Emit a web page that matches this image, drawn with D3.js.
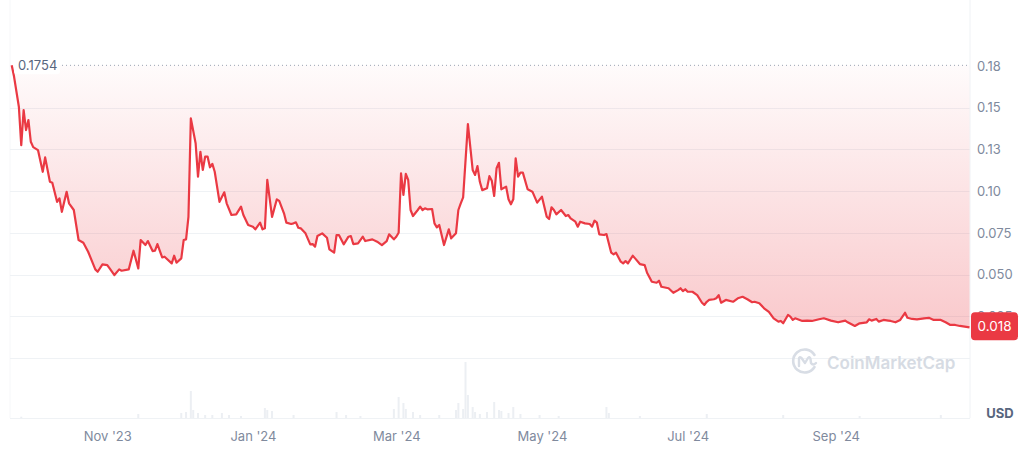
<!DOCTYPE html>
<html>
<head>
<meta charset="utf-8">
<script src="https://cdn.jsdelivr.net/npm/d3@7"></script>
<style>
  body { margin: 0; background: #fff; }
  svg { display: block; font-family: Inter, "Noto Sans", sans-serif; }
</style>
</head>
<body>
<div id="chart"></div>
<script>
// first day of the series, every point is "days since" this date
var startDate = new Date(2023, 8, 22);

var dayIdx = [0, 1, 3, 4, 5, 6, 7, 8, 9, 11, 13, 14, 16, 17, 19, 20, 21, 23, 24, 26,
  28, 30, 32, 35, 36, 38, 40, 41, 43, 45, 46, 49, 51, 53, 54, 56, 57, 59, 60, 61,
  63, 64, 67, 68, 69, 71, 72, 73, 74, 75, 77, 78, 79, 80, 81, 82, 83, 84, 85, 87,
  89, 90, 92, 94, 96, 97, 99, 101, 102, 104, 105, 106, 107, 109, 111, 112, 114, 115, 117, 118,
  119, 120, 121, 123, 125, 126, 127, 128, 130, 132, 133, 135, 136, 137, 139, 141, 142, 143, 145, 147,
  148, 151, 153, 155, 157, 158, 160, 161, 162, 163, 164, 165, 166, 167, 168, 170, 171, 172, 173, 174,
  176, 177, 178, 179, 181, 183, 184, 186, 187, 188, 189, 191, 193, 194, 195, 196, 197, 199, 200, 201,
  202, 203, 204, 205, 207, 208, 209, 210, 211, 212, 213, 214, 216, 218, 220, 222, 224, 225, 226, 227,
  228, 230, 232, 233, 234, 236, 237, 238, 240, 242, 243, 244, 245, 246, 248, 249, 251, 252, 253, 255,
  256, 257, 258, 260, 261, 263, 265, 266, 268, 270, 271, 272, 274, 275, 277, 279, 280, 281, 282, 283,
  285, 287, 289, 290, 291, 292, 294, 295, 296, 297, 299, 302, 304, 306, 308, 310, 311, 313, 315, 317,
  319, 321, 322, 323, 325, 326, 327, 328, 331, 333, 335, 338, 340, 343, 346, 349, 350, 353, 355, 358,
  359, 360, 362, 363, 365, 367, 368, 370, 372, 374, 375, 377, 379, 382, 384, 386, 389, 391, 393, 395,
  397, 399, 401];

var prices = [0.1754, 0.1685, 0.1506, 0.1276, 0.1486, 0.1366, 0.1426, 0.1296, 0.1264, 0.1246, 0.1116, 0.1202, 0.1056, 0.1050, 0.0936, 0.0957, 0.0876, 0.0996, 0.0927, 0.0887,
  0.0707, 0.0691, 0.0637, 0.0531, 0.0517, 0.0561, 0.0557, 0.0537, 0.0497, 0.0531, 0.0523, 0.0531, 0.0643, 0.0537, 0.0707, 0.0677, 0.0701, 0.0641, 0.0643, 0.0683,
  0.0603, 0.0607, 0.0567, 0.0613, 0.0571, 0.0597, 0.0707, 0.0711, 0.0846, 0.1436, 0.1287, 0.1087, 0.1236, 0.1127, 0.1207, 0.1207, 0.1143, 0.1163, 0.1116, 0.0936,
  0.0993, 0.0927, 0.0857, 0.0861, 0.0907, 0.0857, 0.0797, 0.0787, 0.0771, 0.0811, 0.0771, 0.0777, 0.1067, 0.0846, 0.0951, 0.0942, 0.0867, 0.0811, 0.0803, 0.0807,
  0.0813, 0.0781, 0.0777, 0.0747, 0.0681, 0.0683, 0.0667, 0.0731, 0.0747, 0.0721, 0.0651, 0.0631, 0.0737, 0.0737, 0.0681, 0.0727, 0.0731, 0.0683, 0.0687, 0.0727,
  0.0701, 0.0711, 0.0697, 0.0677, 0.0701, 0.0741, 0.0711, 0.0727, 0.0751, 0.1107, 0.0977, 0.1103, 0.1067, 0.0887, 0.0851, 0.0887, 0.0907, 0.0887, 0.0897, 0.0891,
  0.0893, 0.0807, 0.0783, 0.0797, 0.0677, 0.0771, 0.0717, 0.0747, 0.0887, 0.0927, 0.0963, 0.1402, 0.1127, 0.1097, 0.1150, 0.1056, 0.1006, 0.1017, 0.1090, 0.1062,
  0.0971, 0.1137, 0.1170, 0.1011, 0.1027, 0.0951, 0.0921, 0.0951, 0.1197, 0.1087, 0.1111, 0.1111, 0.1011, 0.0997, 0.0931, 0.0967, 0.0847, 0.0833, 0.0903, 0.0887,
  0.0861, 0.0887, 0.0851, 0.0857, 0.0837, 0.0817, 0.0787, 0.0817, 0.0807, 0.0803, 0.0787, 0.0823, 0.0811, 0.0741, 0.0737, 0.0743, 0.0631, 0.0621, 0.0631, 0.0577,
  0.0567, 0.0581, 0.0567, 0.0613, 0.0597, 0.0563, 0.0557, 0.0511, 0.0457, 0.0451, 0.0463, 0.0427, 0.0421, 0.0418, 0.0391, 0.0407, 0.0418, 0.0401, 0.0412, 0.0397,
  0.0397, 0.0377, 0.0331, 0.0318, 0.0337, 0.0348, 0.0352, 0.0358, 0.0377, 0.0331, 0.0348, 0.0337, 0.0358, 0.0367, 0.0352, 0.0334, 0.0337, 0.0328, 0.0298, 0.0277,
  0.0238, 0.0218, 0.0222, 0.0208, 0.0258, 0.0248, 0.0228, 0.0238, 0.0222, 0.0224, 0.0222, 0.0232, 0.0238, 0.0224, 0.0214, 0.0224, 0.0214, 0.0192, 0.0208, 0.0214,
  0.0232, 0.0224, 0.0234, 0.0218, 0.0228, 0.0224, 0.0222, 0.0214, 0.0228, 0.0271, 0.0241, 0.0234, 0.0232, 0.0238, 0.0241, 0.0228, 0.0228, 0.0214, 0.0198, 0.0198,
  0.0192, 0.0188, 0.0184];

// volume (thousand USD), only the days where a bar is visible
var volDays = [4, 53, 71, 73, 75, 76, 78, 81, 84, 88, 91, 96, 106, 107, 109, 118, 136, 140, 146, 160,
  162, 164, 165, 168, 171, 179, 186, 187, 189, 190, 191, 193, 194, 196, 199, 202, 204, 205, 208, 210,
  213, 221, 229, 249, 250, 263, 291, 323, 355, 389];
var volumes = [130, 400, 500, 600, 2700, 800, 500, 300, 300, 500, 300, 200, 1000, 800, 700, 300, 600, 300, 200, 900,
  2100, 1500, 900, 600, 300, 300, 800, 1500, 900, 5600, 2300, 1100, 600, 400, 600, 1600, 800, 700, 500, 1100,
  400, 300, 200, 1100, 500, 200, 400, 300, 200, 300];

var yTicks = [0.175, 0.15, 0.125, 0.1, 0.075, 0.05, 0.025];
var yTickLabels = ["0.18", "0.15", "0.13", "0.10", "0.075", "0.050", "0.025"];
var gridVals = [0.15, 0.125, 0.1, 0.075, 0.05, 0.025, 0];

var W = 1024, H = 449;
var left = 10, right = 970, volBase = 418;
var red = "#ea3943";
var labelColor = "#808a9d";

var rows = dayIdx.map(function (d, i) {
  return { date: d3.timeDay.offset(startDate, d), price: prices[i] };
});
var volRows = volDays.map(function (d, i) {
  return { date: d3.timeDay.offset(startDate, d), vol: volumes[i] };
});

var x = d3.scaleTime()
  .domain([startDate, d3.timeDay.offset(startDate, 401)])
  .range([11.7, 969.5]);

var y = d3.scaleLinear()
  .domain([0, 0.175])
  .range([358, 66]);

var yVol = d3.scaleLinear()
  .domain([0, 5600])
  .range([volBase, 362]);

var svg = d3.select("#chart").append("svg")
  .attr("width", W)
  .attr("height", H);

var defs = svg.append("defs");
var grad = defs.append("linearGradient")
  .attr("id", "fillGrad")
  .attr("gradientUnits", "userSpaceOnUse")
  .attr("x1", 0).attr("x2", 0)
  .attr("y1", y(0.175)).attr("y2", y(0));
grad.append("stop").attr("offset", "0%").attr("stop-color", red).attr("stop-opacity", 0.02);
grad.append("stop").attr("offset", "100%").attr("stop-color", red).attr("stop-opacity", 0.3);

// frame lines
svg.append("line")
  .attr("x1", right).attr("x2", right)
  .attr("y1", 0).attr("y2", volBase)
  .attr("stroke", "#eff2f5");
svg.append("line")
  .attr("x1", left).attr("x2", left)
  .attr("y1", 0).attr("y2", volBase)
  .attr("stroke", "#f6f7f9");

// grid
svg.append("g").selectAll("line")
  .data(gridVals)
  .enter().append("line")
  .attr("x1", left).attr("x2", right)
  .attr("y1", function (d) { return Math.round(y(d)) + 0.5; })
  .attr("y2", function (d) { return Math.round(y(d)) + 0.5; })
  .attr("stroke", "#eff2f5");

svg.append("line")
  .attr("x1", left).attr("x2", right)
  .attr("y1", volBase + 0.5).attr("y2", volBase + 0.5)
  .attr("stroke", "#eff2f5");

// volume bars
svg.append("g").selectAll("rect")
  .data(volRows)
  .enter().append("rect")
  .attr("x", function (d) { return x(d.date) - 1; })
  .attr("width", 2)
  .attr("y", function (d) { return yVol(d.vol); })
  .attr("height", function (d) { return volBase - yVol(d.vol); })
  .attr("fill", "#eceff3");

// watermark
var wm = svg.append("g").attr("transform", "translate(805,361)");
wm.append("path")
  .attr("d", "M9.5,-6 A11.5,11.5 0 1 0 9.5,6")
  .attr("fill", "none")
  .attr("stroke", "#d8dde5")
  .attr("stroke-width", 2.6)
  .attr("stroke-linecap", "round");
wm.append("path")
  .attr("d", "M-6,5 L-6,-2 Q-6,-5 -3.5,-3 L0,2 L3,-3 Q5,-5 5.5,-2 L6,2 Q8,5 11,2")
  .attr("fill", "none")
  .attr("stroke", "#d8dde5")
  .attr("stroke-width", 2.4)
  .attr("stroke-linecap", "round")
  .attr("stroke-linejoin", "round");
svg.append("text")
  .attr("x", 827)
  .attr("y", 368.5)
  .attr("fill", "#d6dbe3")
  .style("font-size", "17px")
  .style("font-weight", 600)
  .text("CoinMarketCap");

// price area (between the line and the first price) and line
var base = prices[0];
var area = d3.area()
  .x(function (d) { return x(d.date); })
  .y0(y(base))
  .y1(function (d) { return y(d.price); });

var line = d3.line()
  .x(function (d) { return x(d.date); })
  .y(function (d) { return y(d.price); });

svg.append("path")
  .datum(rows)
  .attr("d", area)
  .attr("fill", "url(#fillGrad)");

// dotted reference line at the opening price
svg.append("line")
  .attr("x1", 62).attr("x2", right)
  .attr("y1", y(base)).attr("y2", y(base))
  .attr("stroke", "#9aa3b2")
  .attr("stroke-width", 1)
  .attr("stroke-dasharray", "1,3");

svg.append("path")
  .datum(rows)
  .attr("d", line)
  .attr("fill", "none")
  .attr("stroke", red)
  .attr("stroke-width", 2.2)
  .attr("stroke-linejoin", "round");

// opening price tag
svg.append("rect")
  .attr("x", 14).attr("y", y(base) - 9)
  .attr("width", 46).attr("height", 18)
  .attr("rx", 3)
  .attr("fill", "#fff")
  .attr("fill-opacity", 0.9);
svg.append("text")
  .attr("x", 18)
  .attr("y", y(base) + 5)
  .attr("fill", "#58667e")
  .style("font-size", "13px")
  .text(d3.format(".4f")(base));

// y axis (right)
var yAxis = d3.axisRight(y)
  .tickValues(yTicks)
  .tickSize(0)
  .tickPadding(7)
  .tickFormat(function (d, i) { return yTickLabels[i]; });

var gy = svg.append("g")
  .attr("transform", "translate(" + right + ",0)")
  .call(yAxis);
gy.select(".domain").remove();
gy.selectAll("text")
  .attr("fill", labelColor)
  .style("font-size", "13px")
  .style("font-family", "Inter, 'Noto Sans', sans-serif");

// x axis
var xAxis = d3.axisBottom(x)
  .ticks(d3.timeMonth.every(2))
  .tickSize(0)
  .tickPadding(14)
  .tickFormat(d3.timeFormat("%b '%y"));

var gx = svg.append("g")
  .attr("transform", "translate(0," + volBase + ")")
  .call(xAxis);
gx.select(".domain").remove();
gx.selectAll("text")
  .attr("fill", labelColor)
  .style("font-size", "13px")
  .style("font-family", "Inter, 'Noto Sans', sans-serif");

svg.append("text")
  .attr("x", 1000)
  .attr("y", 418)
  .attr("text-anchor", "middle")
  .attr("fill", "#58667e")
  .style("font-size", "13px")
  .style("font-weight", 700)
  .text("USD");

// last price tag
var last = rows[rows.length - 1];
var ly = y(last.price);
svg.append("rect")
  .attr("x", 971).attr("y", ly - 15)
  .attr("width", 47).attr("height", 28)
  .attr("rx", 4)
  .attr("fill", red);
svg.append("text")
  .attr("x", 994.5)
  .attr("y", ly + 4)
  .attr("text-anchor", "middle")
  .attr("fill", "#fff")
  .style("font-size", "13.5px")
  .text(d3.format(".3f")(last.price));
</script>
</body>
</html>
